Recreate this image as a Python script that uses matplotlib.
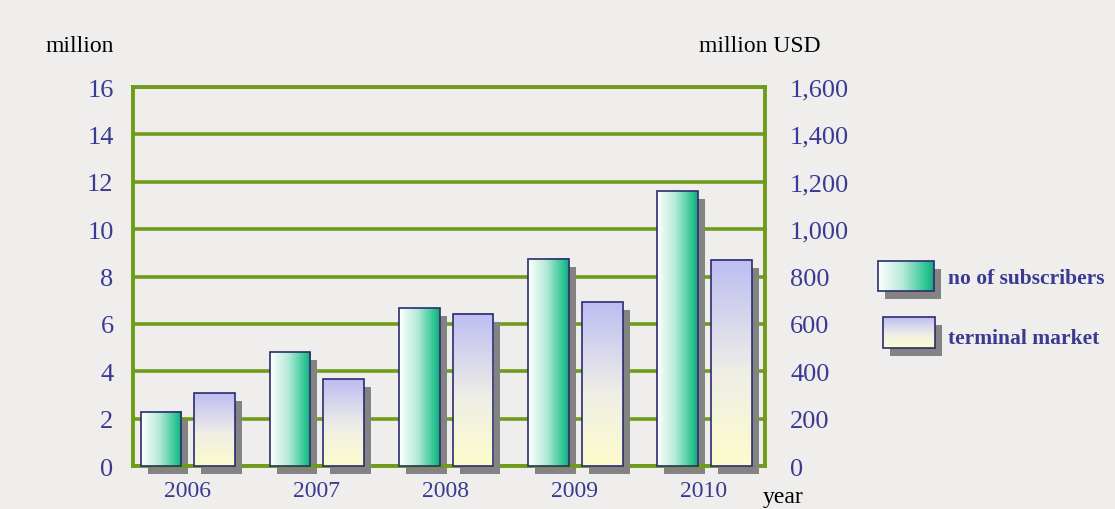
import numpy as np
import matplotlib.pyplot as plt
from matplotlib.colors import LinearSegmentedColormap
from matplotlib.patches import Rectangle
from matplotlib.transforms import offset_copy

plt.rcParams['font.family'] = ['Liberation Serif', 'DejaVu Serif']

# data
years = ['2006', '2007', '2008', '2009', '2010']
subscribers = [2.3, 4.8, 6.65, 8.75, 11.6]        # million
terminal_market = [308, 367, 642, 692, 870]       # million USD

left_ticks = [0, 2, 4, 6, 8, 10, 12, 14, 16]
right_ticks = [0, 200, 400, 600, 800, 1000, 1200, 1400, 1600]
right_tick_labels = ['0', '200', '400', '600', '800', '1,000', '1,200', '1,400', '1,600']

BG = '#f0eeed'
GREEN = '#6f9c1a'
TEXT_BLUE = '#3a3a92'
EDGE = '#2c2c70'
SHADOW = '#838383'

sub_cmap = LinearSegmentedColormap.from_list(
    'sub', [(0, '#ffffff'), (0.45, '#b4ead6'), (0.88, '#27c491'), (1, '#1aa47f')])
term_cmap = LinearSegmentedColormap.from_list(
    'term', [(0, '#fdfccc'), (0.45, '#efeee6'), (1, '#bdbdf3')])


def gradient_box(ax, x0, y0, width, height, cmap, horizontal, zorder=3):
    # gray drop shadow, shifted right/down in pixels
    shadow_tr = offset_copy(ax.transData, fig=ax.figure, x=7, y=-8, units='dots')
    ax.add_patch(Rectangle((x0, y0), width, height, transform=shadow_tr,
                           facecolor=SHADOW, edgecolor='none', zorder=zorder - 1,
                           clip_on=False))
    if horizontal:
        grad = np.linspace(0, 1, 256).reshape(1, -1)
    else:
        grad = np.linspace(0, 1, 256).reshape(-1, 1)
        if ax.yaxis_inverted():
            grad = grad[::-1]
    ax.imshow(grad, cmap=cmap, extent=[x0, x0 + width, y0, y0 + height], origin='lower',
              aspect='auto', zorder=zorder, interpolation='bicubic')
    ax.add_patch(Rectangle((x0, y0), width, height, facecolor='none',
                           edgecolor=EDGE, lw=1.2, zorder=zorder + 1, clip_on=False))


fig = plt.figure(figsize=(11.15, 5.1), dpi=100)
fig.patch.set_facecolor(BG)

ax = fig.add_axes([0.1193, 0.0843, 0.5668, 0.7431])
ax.set_facecolor(BG)
ax2 = ax.twinx()

x = np.arange(len(years))
bar_w = 0.315

for i in range(len(years)):
    gradient_box(ax, x[i] - 0.36, 0, bar_w, subscribers[i], sub_cmap, True)
    gradient_box(ax2, x[i] + 0.055, 0, bar_w, terminal_market[i], term_cmap, False)

xlim = (-0.418, 4.472)
ax.set_xlim(xlim)
ax2.set_xlim(xlim)
ax.set_ylim(0, 16)
ax2.set_ylim(0, 1600)

# grid and frame
ax.set_yticks(left_ticks)
ax.yaxis.grid(True, color=GREEN, lw=2.6)
ax.set_axisbelow(True)
for s in ax.spines.values():
    s.set_color(GREEN)
    s.set_linewidth(2.8)
for s in ax2.spines.values():
    s.set_visible(False)

ax.tick_params(axis='y', length=0, pad=14, labelsize=19, labelcolor=TEXT_BLUE)
ax.set_xticks(x)
ax.set_xticklabels(years)
ax.tick_params(axis='x', length=0, pad=10, labelsize=17, labelcolor=TEXT_BLUE)

ax2.set_yticks(right_ticks)
ax2.set_yticklabels(right_tick_labels)
ax2.tick_params(axis='y', length=0, pad=18, labelsize=19, labelcolor=TEXT_BLUE)

# axis captions
fig.text(80 / 1115, 1 - 47 / 510, 'million', ha='center', va='center', fontsize=17)
fig.text(760 / 1115, 1 - 47 / 510, 'million USD', ha='center', va='center', fontsize=17)
fig.text(783 / 1115, 1 - 498 / 510, 'year', ha='center', va='center', fontsize=17)

# legend drawn in pixel coordinates
leg = fig.add_axes([0, 0, 1, 1], zorder=5)
leg.set_xlim(0, 1115)
leg.set_ylim(510, 0)
leg.axis('off')
leg.patch.set_visible(False)
gradient_box(leg, 878, 262, 56, 30, sub_cmap, True)
gradient_box(leg, 883, 318, 52, 31, term_cmap, False)
leg.text(948, 279, 'no of subscribers', ha='left', va='center', fontsize=15.5,
         fontweight='bold', color=TEXT_BLUE)
leg.text(948, 339, 'terminal market', ha='left', va='center', fontsize=15.5,
         fontweight='bold', color=TEXT_BLUE)

fig.savefig('out.png', dpi=100, facecolor=BG)
